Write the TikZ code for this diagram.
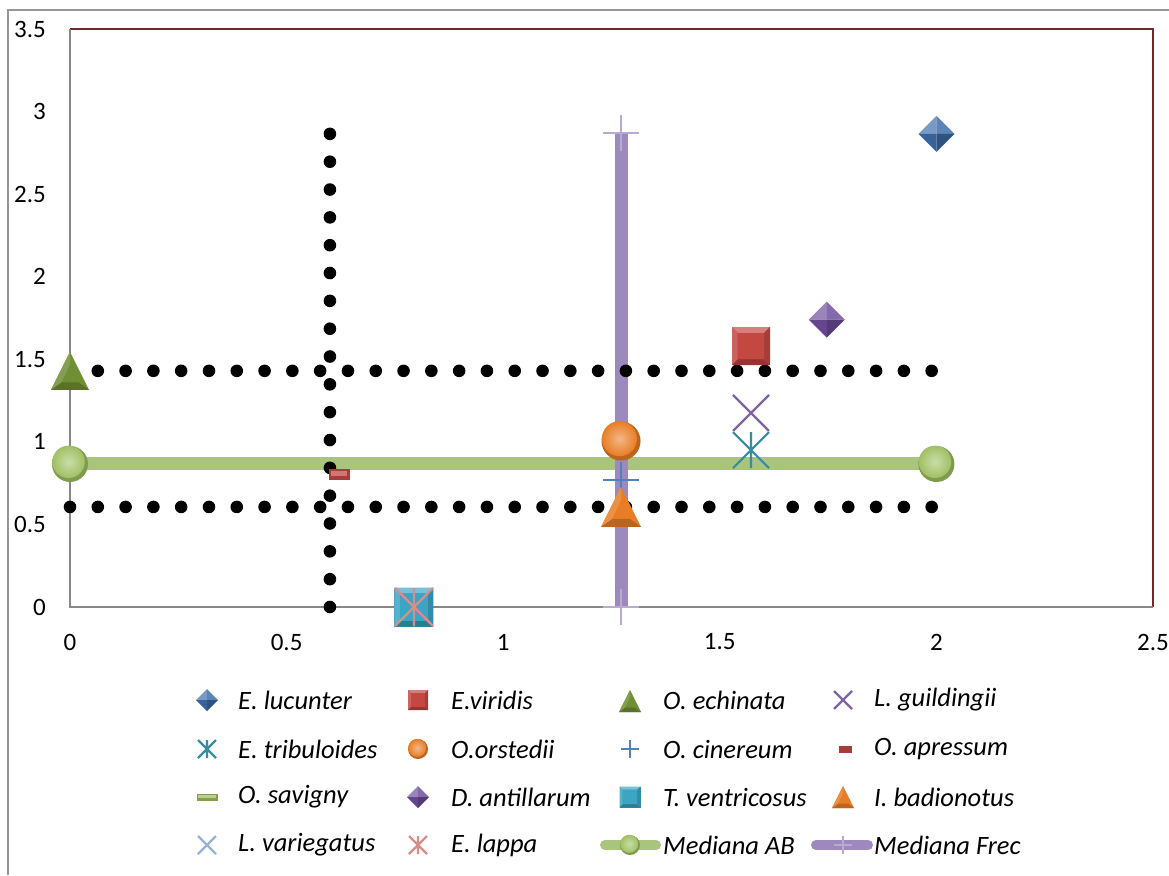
\documentclass[tikz,border=0pt]{standalone}
\usepackage{fontspec}
\setmainfont{Carlito}
\definecolor{outerline}{RGB}{150,150,150}
\definecolor{axisgray}{RGB}{140,134,134}
\definecolor{plotred}{RGB}{112,42,42}
\definecolor{cBlue}{RGB}{62,110,170}
\definecolor{cRed}{RGB}{196,72,66}
\definecolor{cOlive}{RGB}{112,142,52}
\definecolor{cPurple}{RGB}{128,100,162}
\definecolor{cPurpleD}{RGB}{112,78,158}
\definecolor{cTeal}{RGB}{58,140,160}
\definecolor{cOrange}{RGB}{232,125,38}
\definecolor{cPlus}{RGB}{79,129,189}
\definecolor{cCyan}{RGB}{60,165,195}
\definecolor{cLightBlue}{RGB}{149,179,215}
\definecolor{cPink}{RGB}{217,140,138}
\definecolor{cGreenLine}{RGB}{169,196,124}
\definecolor{cGreenBall}{RGB}{160,192,100}
\definecolor{cGreenDash}{RGB}{155,187,89}
\definecolor{cFrec}{RGB}{157,137,190}
\definecolor{cFrecPlus}{RGB}{185,170,210}
% marker helpers (local frame in pt, y up)
\newcommand\mkat[3]{\begin{scope}[shift={(#1,#2)},x=1pt,y=1pt]#3\end{scope}}
\newcommand\mDiamond[2]{%
 \fill[#2!70!white] (0,0)--(-#1,0)--(0,#1)--cycle;
 \fill[#2!85!white] (0,0)--(0,#1)--(#1,0)--cycle;
 \fill[#2!75!black] (0,0)--(#1,0)--(0,-#1)--cycle;
 \fill[#2!90!black] (0,0)--(0,-#1)--(-#1,0)--cycle;}
\newcommand\mSquare[2]{%
 \fill[#2!90!black] (-#1,-#1) rectangle (#1,#1);
 \fill[#2!70!white] (-#1,#1)--(#1,#1)--({0.7*#1},{0.7*#1})--({-0.7*#1},{0.7*#1})--cycle;
 \fill[#2!85!white] (-#1,#1)--(-#1,-#1)--({-0.7*#1},{-0.7*#1})--({-0.7*#1},{0.7*#1})--cycle;
 \fill[#2!75!black] (#1,-#1)--(-#1,-#1)--({-0.7*#1},{-0.7*#1})--({0.7*#1},{-0.7*#1})--cycle;
 \fill[#2!85!black] (#1,-#1)--(#1,#1)--({0.7*#1},{0.7*#1})--({0.7*#1},{-0.7*#1})--cycle;
 \fill[#2] ({-0.7*#1},{-0.7*#1}) rectangle ({0.7*#1},{0.7*#1});}
\newcommand\mTri[2]{%
 \fill[#2] (0,#1)--(-#1,-#1)--(#1,-#1)--cycle;
 \fill[#2!80!black] (-#1,-#1)--(#1,-#1)--({0.45*#1},{-0.6*#1})--({-0.45*#1},{-0.6*#1})--cycle;
 \fill[#2!85!white] (0,#1)--(-#1,-#1)--({-0.45*#1},{-0.6*#1})--(0,{0.35*#1})--cycle;}
\newcommand\mX[2]{\draw[#2,line width=2.2pt] (-#1,-#1)--(#1,#1) (-#1,#1)--(#1,-#1);}
\newcommand\mAst[2]{\draw[#2,line width=2.2pt] (-#1,-#1)--(#1,#1) (-#1,#1)--(#1,-#1) (0,-#1)--(0,#1);}
\newcommand\mPlus[2]{\draw[#2,line width=2.2pt] (-#1,0)--(#1,0) (0,-#1)--(0,#1);}
\newcommand\mBall[2]{%
 \fill[#2!80!black] (0,0) circle[radius=#1];
 \shade[inner color=#2!55!white, outer color=#2] ({-0.08*#1},{0.12*#1}) circle[radius={0.9*#1}];}
\begin{document}
\begin{tikzpicture}[x=1pt,y=-1pt,
  ticklab/.style={font=\fontsize{25}{30}\selectfont, inner sep=0pt},
  leglab/.style={font=\fontsize{26.5}{31}\selectfont\itshape, anchor=west, inner sep=0pt},
  dotmark/.style={fill=black}]
\useasboundingbox (0,0) rectangle (1169,875);
\fill[white] (0,0) rectangle (1169,875);
% outer chart border
\draw[outerline, line width=2pt] (8,875) -- (8,10) -- (1169,10);
% plot area
\draw[plotred, line width=2.5pt] (70,29) -- (1153,29) -- (1153,607);
\draw[axisgray, line width=2.2pt] (70,29) -- (70,607) -- (1153,607);
% tick labels
\foreach \v/\t in {0/0,0.5/0.5,1/1,1.5/1.5,2/2,2.5/2.5,3/3,3.5/3.5}
  \node[ticklab, anchor=east] (y\t) at (46,{607-\v*165.14}) {\t};
\foreach \v/\t in {0/0,0.5/0.5,1/1,1.5/1.5,2/2,2.5/2.5}
  \node[ticklab] (x\t) at ({70+\v*433.2},642) {\t};
% data
\begin{scope}[shift={(70,607)},x=433.2pt,y=165.14pt]
  \coordinate (ab1) at (0,0.866);
  \coordinate (ab2) at (2,0.866);
  \coordinate (fr1) at (1.272,0);
  \coordinate (fr2) at (1.272,2.87);
  \draw[cGreenLine, line width=13pt] (ab1) -- (ab2);
  \draw[cFrec, line width=13pt] (fr1) -- (fr2);
  % dotted guide lines
  \foreach \k in {0,...,31} {
    \fill[dotmark] ({\k*0.06417},1.43) circle[radius=6.3pt];
    \fill[dotmark] ({\k*0.06417},0.606) circle[radius=6.3pt];
  }
  \foreach \k in {0,...,17}
    \fill[dotmark] (0.6,{\k*2.865/17}) circle[radius=6.3pt];
  % median markers
  \mkat{0}{0.866}{\mBall{18}{cGreenBall}}
  \mkat{2}{0.866}{\mBall{18}{cGreenBall}}
  \mkat{1.272}{0}{\mPlus{18}{cFrecPlus}}
  \mkat{1.272}{2.87}{\mPlus{18}{cFrecPlus}}
  % species
  \mkat{2}{2.865}{\mDiamond{18}{cBlue}}
  \mkat{1.572}{1.58}{\mSquare{19}{cRed}}
  \mkat{0}{1.43}{\mTri{19}{cOlive}}
  \mkat{1.572}{1.175}{\mX{18}{cPurple}}
  \mkat{1.572}{0.95}{\mAst{18}{cTeal}}
  \mkat{1.272}{1.005}{\mBall{19.5}{cOrange}}
  \mkat{1.272}{0.77}{\mPlus{18}{cPlus}}
  \mkat{0.621}{0.80}{\fill[cRed!85!black] (-10.5,-5.5) rectangle (10.5,5.5); \fill[cRed!75!white] (-8,-1) rectangle (8,3.5);}
  \mkat{1.747}{1.74}{\mDiamond{18}{cPurpleD}}
  \mkat{0.794}{0}{\mSquare{19.5}{cCyan}}
  \mkat{1.272}{0.606}{\mTri{20}{cOrange}}
  \mkat{0.794}{0}{\mAst{19}{cPink}}
\end{scope}
% legend
\mkat{207}{700}{\mDiamond{11}{cBlue}}
\node[leglab] (l1) at (238,700) {E. lucunter};
\mkat{418}{700}{\mSquare{10}{cRed}}
\node[leglab] (l2) at (451,700) {E.viridis};
\mkat{630}{701}{\mTri{11}{cOlive}}
\node[leglab] (l3) at (663,700) {O. echinata};
\mkat{843}{700}{\mX{9}{cPurple}}
\node[leglab] (l4) at (874,700) {L. guildingii};
\mkat{207}{749}{\mAst{9}{cTeal}}
\node[leglab] (l5) at (238,749) {E. tribuloides};
\mkat{418}{749}{\mBall{10}{cOrange}}
\node[leglab] (l6) at (451,749) {O.orstedii};
\mkat{630}{749}{\mPlus{9}{cPlus}}
\node[leglab] (l7) at (663,749) {O. cinereum};
\mkat{845}{749}{\fill[cRed!85!black] (-6.5,-3.5) rectangle (6.5,3.5);}
\node[leglab] (l8) at (874,749) {O. apressum};
\mkat{207}{797}{\fill[cGreenDash!85!black] (-10.5,-3.5) rectangle (10.5,3.5); \fill[cGreenDash!70!white] (-9,-0.5) rectangle (9,2);}
\node[leglab] (l9) at (238,797) {O. savigny};
\mkat{418}{797}{\mDiamond{11}{cPurpleD}}
\node[leglab] (l10) at (451,797) {D. antillarum};
\mkat{630}{797}{\mSquare{10.5}{cCyan}}
\node[leglab] (l11) at (663,797) {T. ventricosus};
\mkat{843}{797}{\mTri{11}{cOrange}}
\node[leglab] (l12) at (874,797) {I. badionotus};
\mkat{207}{845}{\mX{9}{cLightBlue}}
\node[leglab] (l13) at (238,845) {L. variegatus};
\mkat{418}{845}{\mAst{9}{cPink}}
\node[leglab] (l14) at (451,845) {E. lappa};
\coordinate (ma1) at (605,845);
\coordinate (ma2) at (656,845);
\draw[cGreenLine, line width=10pt, line cap=round] (ma1) -- (ma2);
\mkat{630}{845}{\mBall{10}{cGreenBall}}
\node[leglab] (l15) at (663,845) {Mediana AB};
\coordinate (mf1) at (816,845);
\coordinate (mf2) at (868,845);
\draw[cFrec, line width=10pt, line cap=round] (mf1) -- (mf2);
\mkat{843}{845}{\mPlus{9}{cFrecPlus}}
\node[leglab] (l16) at (874,845) {Mediana Frec};
\end{tikzpicture}
\end{document}
